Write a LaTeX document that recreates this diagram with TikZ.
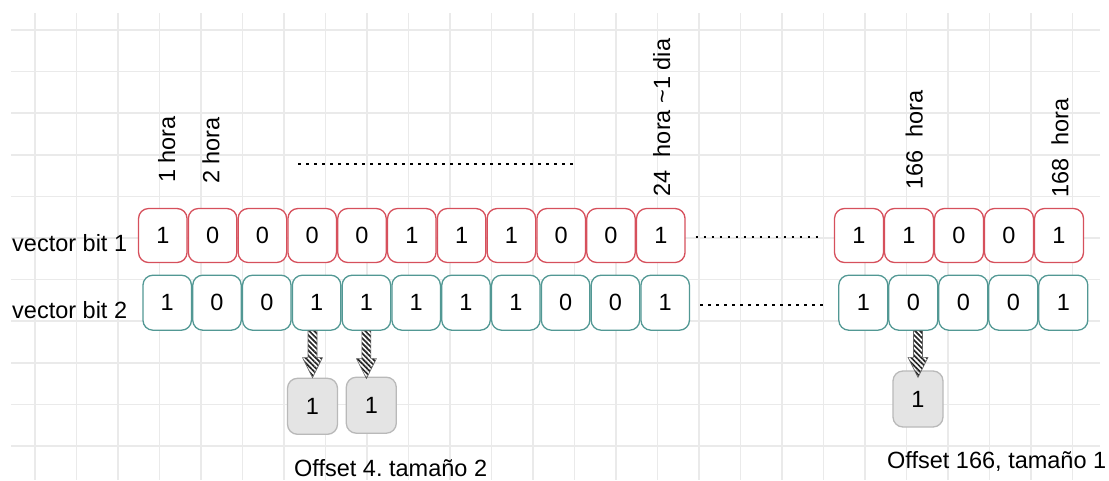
\documentclass[tikz,border=0pt]{standalone}
\usepackage{fontspec}
\setmainfont{Liberation Sans}
\usetikzlibrary{calc,patterns.meta}

\definecolor{bitred}{RGB}{214,80,92}
\definecolor{bitteal}{RGB}{82,152,148}
\definecolor{gridgray}{RGB}{234,234,234}
\definecolor{boxgray}{RGB}{228,228,228}
\definecolor{boxedge}{RGB}{185,185,185}

% fat hatched arrow from #1 to the tip #2
\newcommand{\hatcharrow}[2]{%
  \path ($(#2)!20pt!(#1)$) coordinate (hb);
  \draw[hatched] ($(#1)!4.5pt!90:(#2)$) -- ($(hb)!4.5pt!90:(#2)$)
    -- ($(hb)!10pt!90:(#2)$) -- (#2) -- ($(hb)!10pt!-90:(#2)$)
    -- ($(hb)!4.5pt!-90:(#2)$) -- ($(#1)!4.5pt!-90:(#2)$) -- cycle;
}

\begin{document}
\begin{tikzpicture}[x=1pt,y=-1pt,
  lbl/.style={font=\fontsize{23.5}{27}\selectfont, inner sep=0pt},
  hourlbl/.style={lbl, rotate=90, anchor=base west},
  bit/.style={rectangle, rounded corners=10pt, minimum width=48.5pt,
    minimum height=54pt, line width=1.3pt, fill=white, inner sep=0pt,
    font=\fontsize{23.5}{27}\selectfont},
  redbit/.style={bit, draw=bitred},
  tealbit/.style={bit, draw=bitteal, minimum height=55pt},
  graybit/.style={bit, draw=boxedge, fill=boxgray, minimum width=50pt, minimum height=56pt},
  dots/.style={line width=2.6pt, dash pattern=on 2.6pt off 5.4pt},
  hatched/.style={draw=black!60, line width=0.6pt,
    pattern={Lines[angle=-45,distance=3.6pt,line width=1.7pt]}, pattern color=black!85}]

\useasboundingbox (0,0) rectangle (1109,480);

% === Background grid ===
\foreach \k in {0,...,25}
  \draw[gridgray, line width=1.5pt] ({35+41.5*\k},13) -- ({35+41.5*\k},480);
\foreach \j in {0,...,10}
  \draw[gridgray, line width=1.5pt] (11,{30+41.6*\j}) -- (1100,{30+41.6*\j});

% === Row labels ===
\node[lbl, anchor=base west] (v1) at (12,251) {vector bit 1};
\node[lbl, anchor=base west] (v2) at (12,318.3) {vector bit 2};

% === Vector bit 1 (red) ===
\foreach \v [count=\i] in {1,0,0,0,0,1,1,1,0,0,1}
  \node[redbit] (r\i) at ({162.8+49.8*(\i-1)},235.5) {\v};
\foreach \v [count=\i] in {1,1,0,0,1}
  \node[redbit, minimum width=49pt] (rr\i) at ({859+50*(\i-1)},235.5) {\v};

% === Vector bit 2 (teal) ===
\foreach \v [count=\i] in {1,0,0,1,1,1,1,1,0,0,1}
  \node[tealbit] (t\i) at ({167.2+49.8*(\i-1)},302.7) {\v};
\foreach \v [count=\i] in {1,0,0,0,1}
  \node[tealbit, minimum width=49pt] (tr\i) at ({863.3+50*(\i-1)},302.7) {\v};

% dotted gaps between the two parts
\draw[dots] ($(r11.east)+(10,1.5)$) -- ($(rr1.west)+(-14,1.5)$);
\draw[dots] ($(t11.east)+(10,2.3)$) -- ($(tr1.west)+(-14,2.3)$);
\draw[dots] (298,164) -- (574,164);

% === Hour labels (rotated) ===
\node[hourlbl] (h1) at (175,183) {1 hora};
\node[hourlbl] (h2) at (219.3,184) {2 hora};
\node[hourlbl] (h24) at (670,196.5) {24\ \ hora \textasciitilde1 dia};
\node[hourlbl] (h166) at (922.7,190) {166\ \ hora};
\node[hourlbl] (h168) at (1068.3,198) {168\ \ hora};

% === Extracted bits ===
\node[graybit] (g1) at (312.5,406.3) {1};
\node[graybit] (g2) at (371.3,405.2) {1};
\node[graybit] (g3) at (918,399) {1};

\coordinate (s1) at (g1.north |- t4.south);
\coordinate (e1) at (g1.north);
\coordinate (s2) at (t5.south);
\coordinate (e2) at ($(t5.south |- g2.north)+(0,2)$);
\coordinate (s3) at (g3.north |- tr2.south);
\coordinate (e3) at ($(g3.north)+(0,7)$);
\hatcharrow{s1}{e1}
\hatcharrow{s2}{e2}
\hatcharrow{s3}{e3}

% offsets
\node[lbl, anchor=base west] (o1) at (294,476) {Offset 4.\ tamaño 2};
\node[lbl, anchor=base west] (o2) at (887,468.3) {Offset 166, tamaño 1};

\end{tikzpicture}
\end{document}
